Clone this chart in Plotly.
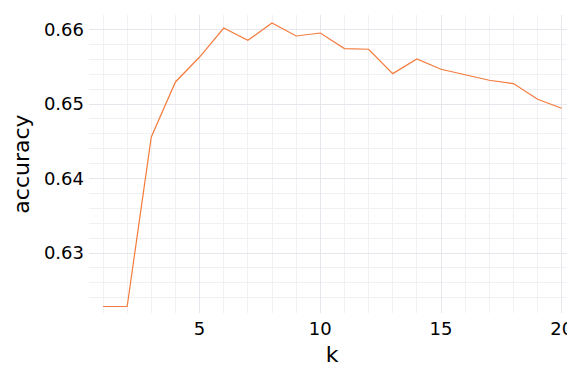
import plotly.graph_objects as go

k = list(range(1, 21))
accuracy = [0.62282, 0.62282, 0.64559, 0.65297, 0.65632, 0.66021, 0.65856, 0.66089,
            0.65914, 0.65954, 0.65745, 0.65736, 0.65409, 0.65605, 0.65467, 0.65391,
            0.65320, 0.65275, 0.65064, 0.64944]

fig = go.Figure(go.Scatter(x=k, y=accuracy, mode="lines",
                           line=dict(color="#F47B3D", width=1.2)))

font = "DejaVu Sans"
fig.update_layout(
    width=567, height=359,
    margin=dict(l=81, r=0, t=7, b=54, autoexpand=False),
    paper_bgcolor="white", plot_bgcolor="white",
    showlegend=False,
    font=dict(family=font, color="black"),
    xaxis=dict(range=[0.42, 20.55], tickvals=[5, 10, 15, 20],
               tickfont=dict(size=18), ticklabelstandoff=3,
               title=dict(text="k", font=dict(size=22), standoff=10),
               showgrid=True, gridcolor="#e6e6ec", gridwidth=1, zeroline=False,
               showline=False, ticks="", automargin=False,
               minor=dict(dtick=1, tick0=0, showgrid=True, gridcolor="#f1f1f4", gridwidth=1)),
    yaxis=dict(range=[0.62195, 0.66196], tickvals=[0.63, 0.64, 0.65, 0.66],
               tickfont=dict(size=18), ticklabelstandoff=4,
               title=dict(text="accuracy", font=dict(size=22), standoff=8),
               showgrid=True, gridcolor="#e6e6ec", gridwidth=1, zeroline=False,
               showline=False, ticks="", automargin=False,
               minor=dict(dtick=0.002, tick0=0, showgrid=True, gridcolor="#f1f1f4", gridwidth=1)),
)

fig.write_html("out.html")
